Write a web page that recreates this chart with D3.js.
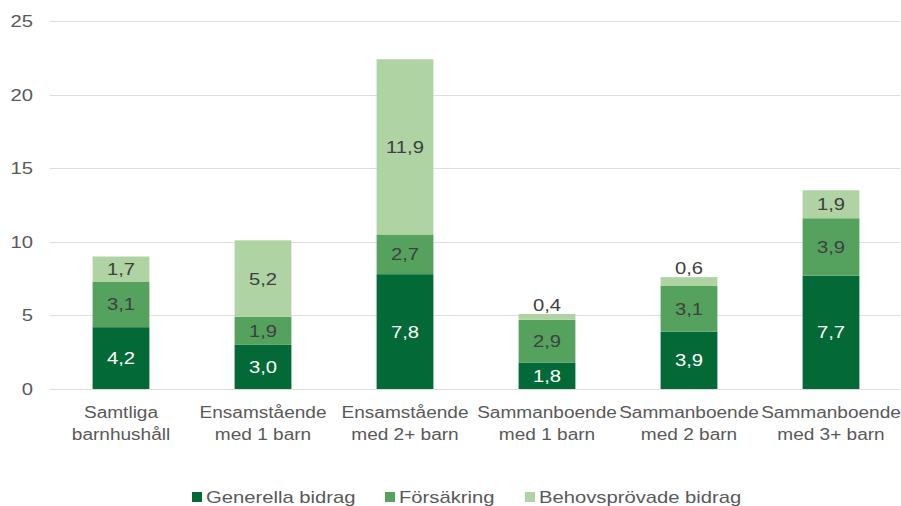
<!DOCTYPE html>
<html>
<head>
<meta charset="utf-8">
<script src="https://cdn.jsdelivr.net/npm/d3@7"></script>
<style>
  body { margin: 0; background: #fff; }
  svg { font-family: "Liberation Sans", Arial, sans-serif; }
</style>
</head>
<body>
<div id="chart"></div>
<script>
// data
var categories = [
  ["Samtliga", "barnhushåll"],
  ["Ensamstående", "med 1 barn"],
  ["Ensamstående", "med 2+ barn"],
  ["Sammanboende", "med 1 barn"],
  ["Sammanboende", "med 2 barn"],
  ["Sammanboende", "med 3+ barn"]
];
var seriesNames = ["Generella bidrag", "Försäkring", "Behovsprövade bidrag"];
var generella = [4.2, 3.0, 7.8, 1.8, 3.9, 7.7];
var forsakring = [3.1, 1.9, 2.7, 2.9, 3.1, 3.9];
var behovsprovade = [1.7, 5.2, 11.9, 0.4, 0.6, 1.9];
var yTicks = [0, 5, 10, 15, 20, 25];

var colors = ["#036a37", "#55a25e", "#afd3a3"];
var labelColors = ["#ffffff", "#404040", "#404040"];
var stretch = 1.19; // text in the picture is drawn wider than normal

var width = 901, height = 506;
var margin = {top: 21, right: 0, bottom: 117, left: 50};
var innerW = width - margin.left - margin.right;
var innerH = height - margin.top - margin.bottom;

var svg = d3.select("#chart").append("svg")
  .attr("width", width)
  .attr("height", height);

var g = svg.append("g")
  .attr("transform", "translate(" + margin.left + "," + margin.top + ")");

var x = d3.scaleBand()
  .domain(d3.range(categories.length))
  .range([0, 852])
  .paddingInner(0.6)
  .paddingOuter(0.3);

var y = d3.scaleLinear()
  .domain([0, 25])
  .range([innerH, 0]);

// helper: wide text anchored at (px, py)
function wideText(parent, px, py, anchor, size, fill, str) {
  var t = parent.append("g")
    .attr("transform", "translate(" + px + "," + py + ") scale(" + stretch + ",1)")
    .append("text")
    .attr("x", 0)
    .attr("y", 0)
    .attr("dy", "0.35em")
    .attr("text-anchor", anchor)
    .attr("fill", fill)
    .style("font-size", size + "px")
    .text(str);
  return t;
}

// grid
g.append("g")
  .selectAll("line")
  .data(yTicks)
  .join("line")
  .attr("x1", 0)
  .attr("x2", 850)
  .attr("y1", function(d) { return Math.round(y(d)) + 0.5; })
  .attr("y2", function(d) { return Math.round(y(d)) + 0.5; })
  .attr("stroke", "#dedede")
  .attr("stroke-width", 1);

// y axis labels
var yl = g.append("g");
yTicks.forEach(function(d) {
  wideText(yl, -17, y(d), "end", 17, "#595959", d);
});

// stack
var rows = categories.map(function(c, i) {
  return {i: i, s0: generella[i], s1: forsakring[i], s2: behovsprovade[i]};
});
var stack = d3.stack().keys(["s0", "s1", "s2"]);
var layers = stack(rows);

var fmt = function(v) { return d3.format(".1f")(v).replace(".", ","); };

layers.forEach(function(layer, li) {
  var lg = g.append("g");
  lg.selectAll("rect")
    .data(layer)
    .join("rect")
    .attr("x", function(d) { return x(d.data.i); })
    .attr("width", x.bandwidth())
    .attr("y", function(d) { return y(d[1]); })
    .attr("height", function(d) { return y(d[0]) - y(d[1]); })
    .attr("fill", colors[li]);

  layer.forEach(function(d) {
    var v = d[1] - d[0];
    var cy = v < 1 ? y(d[1]) - 9 : (y(d[0]) + y(d[1])) / 2;
    wideText(lg, x(d.data.i) + x.bandwidth() / 2, cy, "middle", 17, labelColors[li], fmt(v));
  });
});

// x labels
var xl = g.append("g");
categories.forEach(function(d, i) {
  var cx = x(i) + x.bandwidth() / 2;
  wideText(xl, cx, innerH + 23, "middle", 16, "#595959", d[0]);
  wideText(xl, cx, innerH + 45, "middle", 16, "#595959", d[1]);
});

// legend
var legendX = [192, 385, 525];
var legend = svg.append("g")
  .selectAll("g")
  .data(seriesNames)
  .join("g")
  .attr("transform", function(d, i) { return "translate(" + legendX[i] + ",497)"; });
legend.append("rect")
  .attr("x", 0)
  .attr("y", -5)
  .attr("width", 10)
  .attr("height", 10)
  .attr("fill", function(d, i) { return colors[i]; });
legend.each(function(d) {
  wideText(d3.select(this), 14, 0, "start", 17, "#595959", d);
});
</script>
</body>
</html>
